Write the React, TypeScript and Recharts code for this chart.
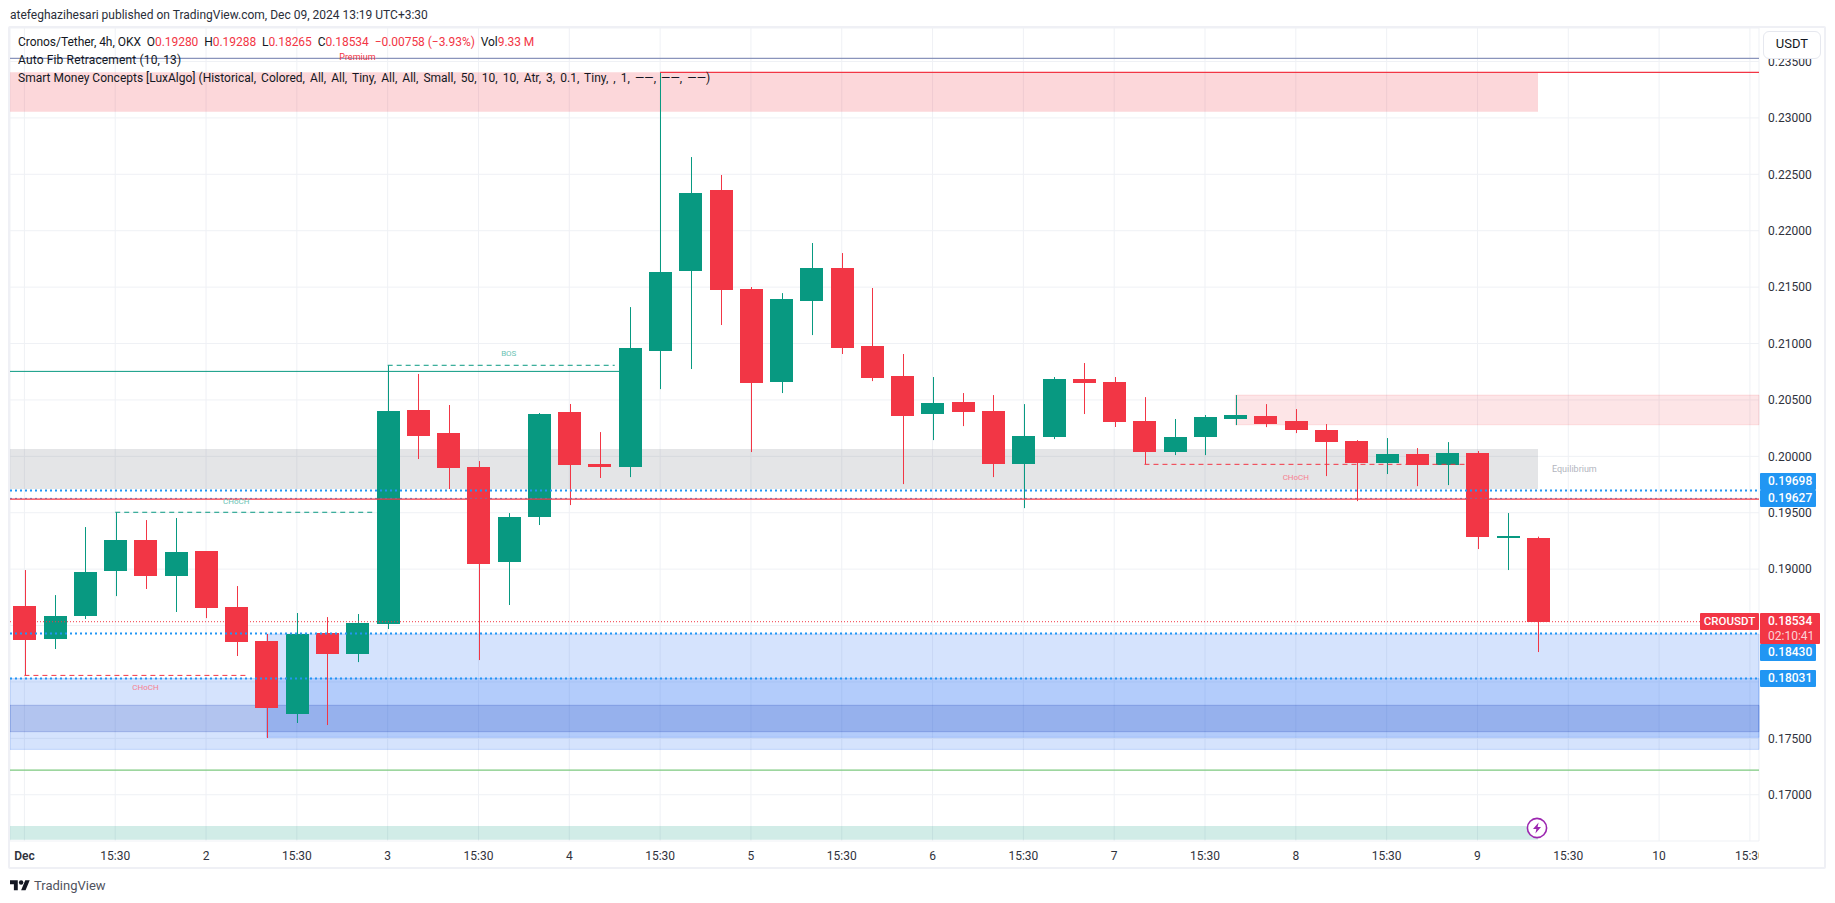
import { Bar, CartesianGrid, ComposedChart, ReferenceArea, ReferenceDot, ReferenceLine, XAxis, YAxis } from "recharts";

// 4h candles, oldest first
const opens = [0.18673, 0.1838, 0.18584, 0.18983, 0.19258, 0.18939, 0.1916, 0.18664, 0.18363, 0.17715, 0.18434, 0.18247, 0.18513, 0.2041, 0.20207, 0.19905, 0.19063, 0.19462, 0.20393, 0.19932, 0.19905, 0.20933, 0.21642, 0.22361, 0.21483, 0.20658, 0.21377, 0.21669, 0.20978, 0.20712, 0.20375, 0.20481, 0.20401, 0.19931, 0.20171, 0.20685, 0.20658, 0.20313, 0.20038, 0.20171, 0.2033, 0.20357, 0.20313, 0.20233, 0.20135, 0.1994, 0.2002, 0.19922, 0.20029, 0.19284, 0.1928];
const highs = [0.18992, 0.1877, 0.19373, 0.19503, 0.19435, 0.19453, 0.1916, 0.1885, 0.18425, 0.18611, 0.18575, 0.18602, 0.20806, 0.2073, 0.20455, 0.19958, 0.19497, 0.20384, 0.20464, 0.20215, 0.21323, 0.23404, 0.22653, 0.22494, 0.21501, 0.21447, 0.21891, 0.21802, 0.21492, 0.20907, 0.20703, 0.20561, 0.20543, 0.20463, 0.20703, 0.20827, 0.20703, 0.20525, 0.20331, 0.20366, 0.20543, 0.20463, 0.20419, 0.20286, 0.20144, 0.20162, 0.20073, 0.20126, 0.20047, 0.19497, 0.19288];
const lows = [0.18058, 0.18292, 0.18558, 0.18761, 0.18824, 0.1862, 0.18566, 0.1823, 0.17503, 0.17636, 0.17618, 0.18176, 0.18469, 0.19976, 0.1971, 0.18194, 0.18682, 0.19391, 0.19568, 0.19808, 0.19816, 0.20596, 0.20774, 0.21164, 0.20038, 0.20561, 0.21075, 0.20907, 0.20667, 0.19754, 0.20144, 0.20268, 0.19816, 0.19541, 0.20153, 0.20375, 0.2026, 0.19931, 0.20011, 0.20011, 0.20277, 0.20259, 0.20206, 0.19825, 0.19603, 0.19843, 0.19736, 0.19745, 0.19178, 0.18992, 0.18265];
const closes = [0.18371, 0.18584, 0.18974, 0.19258, 0.18939, 0.19152, 0.18655, 0.18354, 0.17769, 0.18425, 0.18247, 0.18522, 0.20402, 0.2018, 0.19896, 0.19045, 0.19462, 0.20375, 0.19923, 0.19905, 0.2096, 0.21634, 0.22334, 0.21474, 0.2065, 0.21394, 0.21669, 0.2096, 0.20694, 0.20357, 0.20472, 0.20392, 0.19931, 0.2018, 0.20685, 0.2065, 0.20304, 0.20038, 0.20171, 0.20348, 0.20366, 0.20286, 0.20233, 0.20126, 0.1994, 0.2002, 0.19922, 0.20029, 0.19284, 0.19293, 0.18534];

const candles = opens.map((open, i) => ({ i, open, high: highs[i], low: lows[i], close: closes[i], range: [lows[i], highs[i]] }));

// every third bar gets a time label
const timeTicks = [0, 3, 6, 9, 12, 15, 18, 21, 24, 27, 30, 33, 36, 39, 42, 45, 48, 51, 54, 57];
const timeLabels = ["Dec", "15:30", "2", "15:30", "3", "15:30", "4", "15:30", "5", "15:30", "6", "15:30", "7", "15:30", "8", "15:30", "9", "15:30", "10", "15:30"];
const priceTicks = [0.17, 0.175, 0.18, 0.185, 0.19, 0.195, 0.2, 0.205, 0.21, 0.215, 0.22, 0.225, 0.23, 0.235];
// these two sit under the price tags in the reference
const coveredPrices = [0.18, 0.185];

const xStart = -0.476;
const xEnd = 57.3;
const priceTop = 0.23797;
const priceBottom = 0.1659;

const lastClose = 0.18534;
const upperFib = 0.19698;
const midFib = 0.19627;
const lowerFibA = 0.1843;
const lowerFibB = 0.18031;
const swingRed = 0.1962;
const premiumLine = 0.23528;
const swingHigh = 0.23404;
const greenFloor = 0.17219;
const strongHigh = 0.20753;
const bosLevel = 0.20807;
const chochUp = 0.19504;
const chochDownA = 0.18058;
const chochDownB = 0.19929;

const UP = "#089981";
const DOWN = "#f23645";
const BLUE = "#2196f3";
const ZONE_BLUE = "#2d73f5";
const FONT = "Roboto, sans-serif";
const AXIS_TEXT = "#2f323c";

const Candle = (props: any) => {
  const { x, y, width, height, payload } = props;
  const color = payload.close >= payload.open ? UP : DOWN;
  const span = payload.high - payload.low;
  const top = Math.max(payload.open, payload.close);
  const bottom = Math.min(payload.open, payload.close);
  const bodyTop = y + ((payload.high - top) / span) * height;
  const bodyBottom = y + ((payload.high - bottom) / span) * height;
  const mid = Math.round(x + width / 2);
  return (
    <g>
      <rect x={mid} y={y} width={1} height={height} fill={color} />
      <rect x={Math.round(x)} y={Math.round(bodyTop)} width={width} height={Math.max(2, Math.round(bodyBottom - bodyTop))} fill={color} />
    </g>
  );
};

const TimeTick = (props: any) => {
  const { x, y, payload } = props;
  const label = timeLabels[timeTicks.indexOf(payload.value)];
  return (
    <text x={x} y={y + 17} textAnchor="middle" fontFamily={FONT} fontSize={12} fontWeight={label === "Dec" ? 600 : 400} fill={AXIS_TEXT}>
      {label}
    </text>
  );
};

const hLine = (level: number, from: number, to: number, stroke: string, width: number, dash?: string) => (
  <ReferenceLine
    segment={[{ x: from, y: level }, { x: to, y: level }]}
    stroke={stroke}
    strokeWidth={width}
    strokeDasharray={dash}
  />
);

const note = (x: number, y: number, value: string, fill: string, size = 8) => (
  <ReferenceDot
    x={x}
    y={y}
    r={0}
    fill="none"
    stroke="none"
    label={{ value, position: "center", fill, fontSize: size, fontFamily: FONT }}
  />
);

const PriceTag = ({ top, value, color = BLUE, width = 56, height = 17 }: any) => (
  <div
    style={{
      position: "absolute",
      left: 1760,
      top,
      width,
      height,
      background: color,
      color: "#fff",
      fontFamily: FONT,
      fontSize: 12,
      fontWeight: 500,
      lineHeight: `${height}px`,
      paddingLeft: 8,
      boxSizing: "border-box",
      borderRadius: 1,
    }}
  >
    {value}
  </div>
);

const Red = ({ children }: any) => <span style={{ color: DOWN }}>{children}</span>;

const legendLine = {
  position: "absolute",
  left: 18,
  fontFamily: FONT,
  fontSize: 12,
  lineHeight: "16px",
  color: "#131722",
  whiteSpace: "pre",
} as const;

export default function App() {
  return (
    <div style={{ position: "absolute", left: 0, top: 0, width: 1835, height: 903, background: "#fff", overflow: "hidden" }}>
      <ComposedChart width={1835} height={903} data={candles} margin={{ top: 28, right: 11, bottom: 36, left: 10 }}>
        <CartesianGrid stroke="#eff1f5" />
        <XAxis
          dataKey="i"
          type="number"
          domain={[xStart, xEnd]}
          allowDataOverflow
          ticks={timeTicks}
          interval={0}
          height={26}
          tickSize={0}
          axisLine={false}
          tick={TimeTick}
        />
        <YAxis
          orientation="right"
          type="number"
          domain={[priceBottom, priceTop]}
          allowDataOverflow
          ticks={priceTicks}
          interval={0}
          width={65}
          tickSize={0}
          tickMargin={9}
          axisLine={false}
          tickFormatter={(v: number) => (coveredPrices.includes(v) ? "" : v.toFixed(5))}
          tick={{ fontFamily: FONT, fontSize: 12, fill: AXIS_TEXT }}
        />

        <ReferenceArea x1={xStart} x2={50} y1={0.23055} y2={swingHigh} fill={DOWN} fillOpacity={0.2} stroke="none" />
        <ReferenceArea x1={xStart} x2={50} y1={0.1971} y2={0.20065} fill="#787b86" fillOpacity={0.2} stroke="none" />
        <ReferenceArea x1={40} x2={xEnd} y1={0.2028} y2={0.20543} fill={DOWN} fillOpacity={0.13} stroke={DOWN} strokeOpacity={0.12} />
        <ReferenceArea x1={8} x2={xEnd} y1={0.17509} y2={0.18425} fill={ZONE_BLUE} fillOpacity={0.2} stroke={ZONE_BLUE} strokeOpacity={0.2} />
        <ReferenceArea x1={xStart} x2={xEnd} y1={0.17402} y2={0.18031} fill={ZONE_BLUE} fillOpacity={0.2} stroke={ZONE_BLUE} strokeOpacity={0.2} />
        <ReferenceArea x1={xStart} x2={xEnd} y1={0.17559} y2={0.17793} fill="#0028aa" fillOpacity={0.16} stroke="#0028aa" strokeOpacity={0.2} />
        <ReferenceArea x1={xStart} x2={50} y1={0.166} y2={0.16722} fill={UP} fillOpacity={0.19} stroke="none" />

        {hLine(premiumLine, xStart, xEnd, "#8a94bb", 1.2)}
        {hLine(swingHigh, 21, xEnd, DOWN, 1.2)}
        {hLine(upperFib, xStart, xEnd, BLUE, 2, "2 3")}
        {hLine(midFib, xStart, xEnd, BLUE, 1, "2 3")}
        {hLine(swingRed, xStart, xEnd, DOWN, 1.2)}
        {hLine(lastClose, xStart, xEnd, DOWN, 1, "1 2")}
        {hLine(lowerFibA, xStart, xEnd, BLUE, 2, "2 3")}
        {hLine(lowerFibB, xStart, xEnd, BLUE, 2, "2 3")}
        {hLine(greenFloor, xStart, xEnd, "#7cc97f", 1.2)}
        {hLine(strongHigh, xStart, 20, UP, 1)}
        {hLine(bosLevel, 12, 19.5, UP, 1, "5 4")}
        {hLine(chochUp, 3, 11.5, UP, 1, "5 4")}
        {hLine(chochDownA, 0, 7.4, DOWN, 1, "5 4")}
        {hLine(chochDownB, 37, 47.6, DOWN, 1, "5 4")}

        <Bar dataKey="range" barSize={23} shape={Candle} isAnimationActive={false} />

        {note(11, 0.23544, "Premium", DOWN, 9)}
        {note(51.2, 0.19887, "Equilibrium", "#b2b5be", 9)}
        {note(7, 0.19606, "CHoCH", "#6cc3b4")}
        {note(16, 0.20918, "BOS", "#6cc3b4")}
        {note(4, 0.17957, "CHoCH", "#f7808f")}
        {note(42, 0.19819, "CHoCH", "#f7808f")}
      </ComposedChart>

      <div style={{ position: "absolute", left: 10, top: 7, fontFamily: FONT, fontSize: 12, lineHeight: "16px", color: "#2a2e39", whiteSpace: "pre" }}>
        atefeghazihesari published on TradingView.com, Dec 09, 2024 13:19 UTC+3:30
      </div>

      <div style={{ ...legendLine, top: 34, letterSpacing: -0.04 }}>
        Cronos/Tether, 4h, OKX{"  "}O<Red>0.19280</Red>{"  "}H<Red>0.19288</Red>{"  "}L<Red>0.18265</Red>{"  "}C<Red>0.18534</Red>{"  "}
        <Red>−0.00758 (−3.93%)</Red>{"  "}Vol<Red>9.33 M</Red>
      </div>
      <div style={{ ...legendLine, top: 52, letterSpacing: 0.15 }}>Auto Fib Retracement (10, 13)</div>
      <div style={{ ...legendLine, top: 70 }}>
        Smart Money Concepts [LuxAlgo] <span style={{ wordSpacing: 2.1 }}>(Historical, Colored, All, All, Tiny, All, All, Small, 50, 10, 10, Atr, 3, 0.1, Tiny, , 1, ——, ——, ——)</span>
      </div>

      {/* cuts the last time label at the pane edge, like the reference */}
      <div style={{ position: "absolute", left: 1759, top: 843, width: 64, height: 23, background: "#fff" }} />

      <div
        style={{
          position: "absolute",
          left: 1763,
          top: 31,
          width: 58,
          height: 28,
          background: "#fff",
          border: "1px solid #e6e8ef",
          borderRadius: 6,
          boxSizing: "border-box",
          fontFamily: FONT,
          fontSize: 13,
          lineHeight: "24px",
          textAlign: "center",
          color: "#131722",
        }}
      >
        USDT
      </div>

      <PriceTag top={473} value={upperFib.toFixed(5)} />
      <PriceTag top={490} value={midFib.toFixed(5)} />
      <PriceTag top={644} value={lowerFibA.toFixed(5)} />
      <PriceTag top={670} value={lowerFibB.toFixed(5)} />
      <div style={{ position: "absolute", left: 1700, top: 613, width: 59, height: 17, background: DOWN, color: "#fff", fontFamily: FONT, fontSize: 11.5, fontWeight: 500, lineHeight: "17px", textAlign: "center", borderRadius: 1 }}>
        CROUSDT
      </div>
      <div style={{ position: "absolute", left: 1760, top: 613, width: 60, height: 31, background: DOWN, color: "#fff", fontFamily: FONT, fontSize: 12, fontWeight: 500, lineHeight: "15px", paddingLeft: 8, paddingTop: 1, boxSizing: "border-box", borderRadius: 1 }}>
        {lastClose.toFixed(5)}
        <div style={{ color: "#fbd3d7", fontWeight: 400 }}>02:10:41</div>
      </div>

      <svg style={{ position: "absolute", left: 1526, top: 817 }} width={22} height={22} viewBox="0 0 22 22">
        <circle cx={11} cy={11} r={9.6} fill="#fff" stroke="#9c27b0" strokeWidth={1.6} />
        <path d="M12.6 5.5 7 12h3.4l-1 4.5L15 10h-3.4z" fill="#9c27b0" />
      </svg>

      {/* pane frame */}
      <div style={{ position: "absolute", left: 8, top: 26, width: 1818, height: 843, border: "2px solid #eff0f5", boxSizing: "border-box", borderRadius: 2, pointerEvents: "none" }} />

      <svg style={{ position: "absolute", left: 10, top: 878 }} width={20} height={15.6} viewBox="0 0 36 28">
        <path d="M14 22H7V11H0V4h14v18zM28 22h-8l7.5-18h8L28 22z" fill="#131722" />
        <circle cx={20} cy={8} r={4} fill="#131722" />
      </svg>
      <div style={{ position: "absolute", left: 34, top: 877, fontFamily: FONT, fontSize: 13, lineHeight: "18px", color: "#50535e" }}>TradingView</div>
    </div>
  );
}
